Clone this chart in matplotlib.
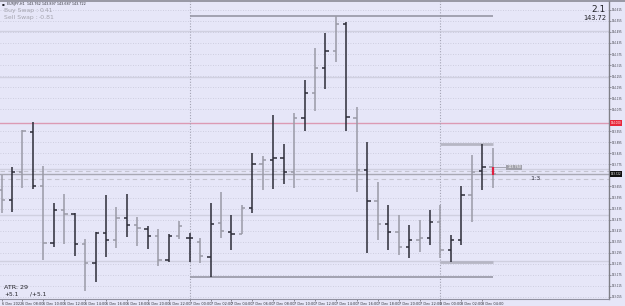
import matplotlib
matplotlib.use("Agg")
import matplotlib.pyplot as plt
import numpy as np

# ---------------- data (EURJPY H1) ----------------
opens = [143.636, 143.582, 143.735, 143.949, 143.658, 143.346, 143.527, 143.504, 143.341, 143.237,
         143.401, 143.364, 143.485, 143.446, 143.422, 143.386, 143.255, 143.386, 143.377, 143.355,
         143.273, 143.458, 143.406, 143.395, 143.536, 143.776, 143.797, 143.808, 143.735, 144.026,
         144.163, 144.301, 144.390, 144.538, 144.026, 143.743, 143.576, 143.449, 143.408, 143.326,
         143.364, 143.375, 143.462, 143.310, 143.364, 143.609, 143.737, 143.759]
highs = [143.717, 143.759, 143.962, 144.003, 143.766, 143.564, 143.614, 143.512, 143.368, 143.409,
         143.609, 143.542, 143.614, 143.491, 143.440, 143.422, 143.397, 143.469, 143.404, 143.373,
         143.567, 143.627, 143.500, 143.554, 143.835, 143.821, 144.043, 143.886, 144.056, 144.234,
         144.406, 144.488, 144.583, 144.547, 144.089, 143.898, 143.681, 143.554, 143.500, 143.446,
         143.473, 143.527, 143.554, 143.391, 143.658, 143.826, 143.886, 143.866]
lows = [143.511, 143.518, 143.645, 143.640, 143.255, 143.328, 143.341, 143.277, 143.089, 143.137,
        143.273, 143.322, 143.379, 143.332, 143.314, 143.223, 143.246, 143.368, 143.246, 143.237,
        143.161, 143.373, 143.310, 143.395, 143.509, 143.636, 143.641, 143.668, 143.648, 143.958,
        144.067, 144.183, 144.333, 143.955, 143.623, 143.295, 143.364, 143.310, 143.283, 143.266,
        143.299, 143.337, 143.266, 143.242, 143.337, 143.462, 143.636, 143.647]
closes = [143.582, 143.735, 143.957, 143.659, 143.346, 143.527, 143.504, 143.341, 143.237, 143.401,
          143.364, 143.485, 143.446, 143.428, 143.386, 143.255, 143.386, 143.440, 143.373, 143.277,
          143.451, 143.413, 143.395, 143.536, 143.776, 143.797, 143.811, 143.732, 144.026, 144.163,
          144.301, 144.390, 144.538, 144.031, 143.746, 143.576, 143.449, 143.408, 143.326, 143.364,
          143.375, 143.462, 143.310, 143.364, 143.609, 143.732, 143.759, 143.722]
bar_shade = ["g", "d", "g", "d", "g", "d", "g", "d", "g", "d",
             "d", "g", "d", "g", "d", "g", "d", "g", "d", "g",
             "d", "g", "d", "g", "d", "g", "d", "d", "g", "d",
             "g", "d", "g", "d", "g", "d", "g", "d", "g", "d",
             "g", "d", "g", "d", "d", "g", "d", "g"]

time_labels = ["6 Dec 2022", "6 Dec 08:00", "6 Dec 10:00", "6 Dec 12:00", "6 Dec 14:00",
               "6 Dec 16:00", "6 Dec 18:00", "6 Dec 20:00", "6 Dec 22:00", "7 Dec 00:00",
               "7 Dec 02:00", "7 Dec 04:00", "7 Dec 06:00", "7 Dec 08:00", "7 Dec 10:00",
               "7 Dec 12:00", "7 Dec 14:00", "7 Dec 16:00", "7 Dec 18:00", "7 Dec 20:00",
               "7 Dec 22:00", "8 Dec 00:00", "8 Dec 02:00", "8 Dec 04:00"]
price_ticks = [143.055, 143.115, 143.175, 143.235, 143.295, 143.355, 143.415, 143.475, 143.535,
               143.595, 143.655, 143.775, 143.835, 143.895, 143.955, 144.075, 144.135,
               144.195, 144.255, 144.315, 144.375, 144.435, 144.495, 144.555, 144.615]
round_levels = [143.25, 143.50, 143.75, 144.25, 144.50]
red_level = 144.000
bid = 143.722
ask_band = [143.738, 143.696]
day7_high, day7_low = 144.583, 143.163
day8_high, day8_low = 143.886, 143.242

# ---------------- figure ----------------
W, H = 625, 306
BG = "#e6e6f8"
fig = plt.figure(figsize=(W / 100, H / 100), dpi=100)
fig.patch.set_facecolor(BG)
ax = fig.add_axes([0, 7 / H, 609 / W, 298 / H])
ax.set_facecolor(BG)

px_per_bar = 10.45
ax.set_xlim(-1.5 / px_per_bar, (609 - 1.5) / px_per_bar)
ax.set_ylim(143.0434, 144.6631)

idx = np.arange(len(opens))
dark, gray = "#2c2c38", "#9a9aa6"
cols = [dark if s == "d" else gray for s in bar_shade]

# grid
ax.set_yticks(price_ticks)
ax.grid(axis="y", linestyle=(0, (1, 2)), color="#c6c6d8", lw=0.6)
ax.grid(axis="x", visible=False)
for lv in round_levels:
    ax.axhline(lv, color="#d0d0e0", lw=1.0, zorder=1)
ax.axhline(red_level, color="#dc9ab4", lw=1.0, zorder=1)
for lv in ask_band:
    ax.axhline(lv, color="#c4c4d0", lw=0.8, ls=(0, (4, 3)), zorder=1)
ax.axhline(bid, color="#a8a8b4", lw=1.0, zorder=1)

# day separators
for d in [18, 42]:
    ax.axvline(d, color="#a2a2b2", lw=0.8, ls=(0, (1, 1.5)), zorder=1)

# daily high/low lines
ax.hlines([day7_high, day7_low], 18, 47, color="#9696a4", lw=1.2, zorder=2)
ax.hlines([day8_high, day8_low], 42, 47, color="#b6b6c4", lw=2.0, zorder=2)

# OHLC bars
ax.vlines(idx, lows, highs, colors=cols, lw=1.1, zorder=3)
ax.hlines(opens, idx - 0.32, idx, colors=cols, lw=1.1, zorder=3)
ax.hlines(closes, idx, idx + 0.32, colors=cols, lw=1.1, zorder=3)
ax.vlines([47], [bid - 0.006], [closes[-1] + 0.037], colors="#e02040", lw=1.6, zorder=4)

# current-bar label
ax.hlines(closes[-2], 47, 48.4, color="#9a9aa6", lw=0.6, zorder=3)
ax.text(48.4, closes[-2], "143.760", fontsize=2.4, color="white", va="center", ha="left",
        bbox=dict(boxstyle="square,pad=0.25", fc="#a0a0aa", ec="none"), zorder=5)
ax.text(50.6, 143.700, "1:3", fontsize=4.6, color="#333340", va="center", ha="left")

# axes styling
for s in ["top", "left"]:
    ax.spines[s].set_visible(False)
ax.spines["bottom"].set_color("#9090a0")
ax.spines["bottom"].set_linewidth(0.8)
ax.spines["right"].set_color("#808088")
ax.spines["right"].set_linewidth(1.0)
ax.yaxis.tick_right()
ax.tick_params(axis="y", length=1.5, width=0.5, color="#707078", labelsize=1.9,
               labelcolor="#404048", pad=0.5)
ax.yaxis.set_major_formatter(matplotlib.ticker.FormatStrFormatter("%.3f"))

xt = np.arange(0, 47, 2)
ax.set_xticks(xt)
ax.set_xticklabels(time_labels, fontsize=2.5, color="#303038")
ax.tick_params(axis="x", length=1.5, width=0.5, color="#606068", pad=0.5, direction="out")
for t in ax.get_xticklabels():
    t.set_ha("left")

# price boxes on the right scale
tr = ax.get_yaxis_transform()
ax.text(1.003, red_level, "144.000", transform=tr, fontsize=1.9, color="white", va="center",
        ha="left", bbox=dict(boxstyle="square,pad=0.3", fc="#e8283c", ec="none"), clip_on=False)
ax.text(1.003, bid, "143.722", transform=tr, fontsize=1.9, color="white", va="center",
        ha="left", bbox=dict(boxstyle="square,pad=0.3", fc="#111111", ec="none"), clip_on=False)

# texts
fig.add_artist(plt.Line2D([0, 1], [1 - 0.5 / H, 1 - 0.5 / H], color="#8a8a96", lw=1.2))
fig.text(2 / W, 1 - 4.5 / H, "\u25aa", fontsize=3, color="#202028", va="center")
fig.text(7 / W, 1 - 4.5 / H, "EURJPY,H1  143.762 143.897 143.687 143.722", fontsize=2.4,
         color="#303038", va="center")
fig.text(4 / W, 1 - 10.5 / H, "Buy Swap :", fontsize=4.4, color="#a4a4ae", va="center")
fig.text(40 / W, 1 - 10.5 / H, "0.41", fontsize=4.4, color="#a4a4ae", va="center")
fig.text(4 / W, 1 - 17.5 / H, "Sell Swap :", fontsize=4.4, color="#a4a4ae", va="center")
fig.text(39 / W, 1 - 17.5 / H, "-0.81", fontsize=4.4, color="#a4a4ae", va="center")
fig.text(606 / W, 1 - 9 / H, "2.1", fontsize=6.5, color="#222228", va="center", ha="right")
fig.text(606 / W, 1 - 18.5 / H, "143.72", fontsize=4.8, color="#222228", va="center", ha="right")
fig.text(4 / W, 1 - 287.5 / H, "ATR: 29", fontsize=4.6, color="#222228", va="center")
fig.text(4 / W, 1 - 294.5 / H, "+5.1", fontsize=4.2, color="#222228", va="center")
fig.text(30 / W, 1 - 294.5 / H, "/+5.1", fontsize=4.2, color="#222228", va="center")

fig.savefig("out.png", dpi=100, facecolor=BG)
